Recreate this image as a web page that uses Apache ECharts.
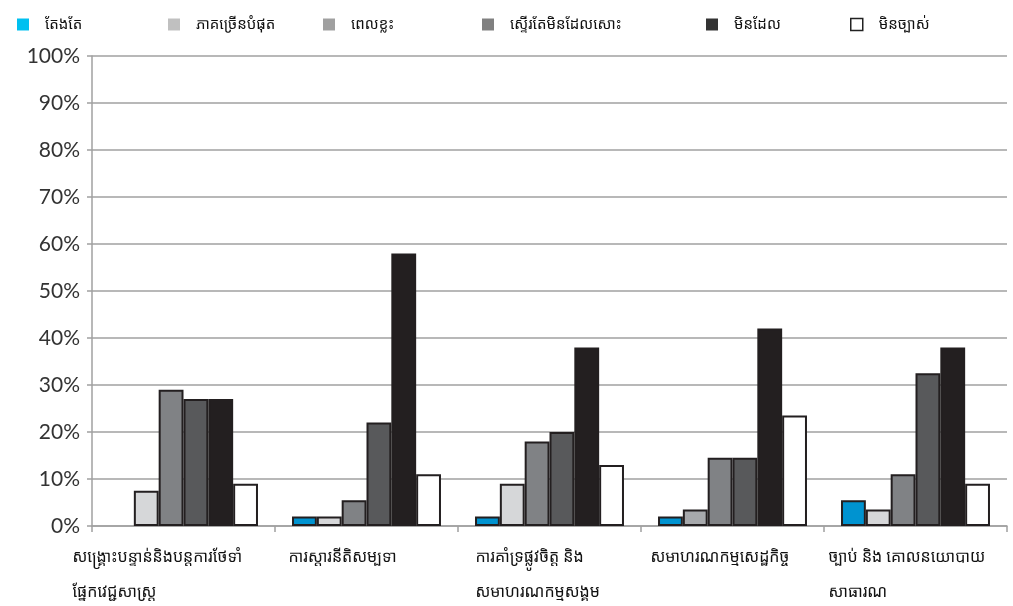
<!DOCTYPE html>
<html><head><meta charset="utf-8">
<script src="https://cdn.jsdelivr.net/npm/echarts@6/dist/echarts.min.js"></script>
<style>html,body{margin:0;padding:0;background:#fff}#c{width:1013px;height:606px}</style>
</head><body><div id="c"></div>
<script>
const categories = ['សង្គ្រោះបន្ទាន់និងបន្តការថែទាំ\nផ្នែកវេជ្ជសាស្ត្រ', 'ការស្តារនីតិសម្បទា', 'ការគាំទ្រផ្លូវចិត្ត និង\nសមាហរណកម្មសង្គម', 'សមាហរណកម្មសេដ្ឋកិច្ច', 'ច្បាប់ និង គោលនយោបាយ\nសាធារណ'];
const seriesNames = ['តែងតែ', 'ភាគច្រើនបំផុត', 'ពេលខ្លះ', 'ស្ទើរតែមិនដែលសោះ', 'មិនដែល', 'មិនច្បាស់'];
const always = [null, 2, 2, 2, 5.5];
const mostly = [7.5, 2, 9, 3.5, 3.5];
const sometimes = [29, 5.5, 18, 14.5, 11];
const rarely = [27, 22, 20, 14.5, 32.5];
const never = [27, 58, 38, 42, 38];
const unsure = [9, 11, 13, 23.5, 9];
const yTicks = [0,10,20,30,40,50,60,70,80,90,100];

const values = [always, mostly, sometimes, rarely, never, unsure];
const barColors = ['#0093d0', '#d6d7d9', '#808285', '#58595b', '#231f20', '#ffffff'];
const legendColors = ['#00c0f0', '#c0c0c0', '#a0a0a0', '#808080', '#333333', '#ffffff'];
const legendLeft = [12, 163, 318, 477, 701, 845];
const labelWidths = [222, 156, 148, 164, 174];

const chart = echarts.init(document.getElementById('c'));
const khmer = '"Noto Sans Khmer", "Noto Sans", sans-serif';
const rich = {};
labelWidths.forEach((w, i) => { rich['a' + i] = {width: w, align: 'left', fontSize: 16, lineHeight: 35, color: '#111', fontFamily: khmer}; });

chart.setOption({
  animation: false,
  legend: seriesNames.map((n, i) => ({
    left: legendLeft[i], top: 12, itemWidth: 12, itemHeight: 12, icon: 'rect', selectedMode: false,
    data: [{name: n, itemStyle: {color: legendColors[i], borderColor: '#222', borderWidth: i === 5 ? 1.5 : 0}}],
    textStyle: {fontSize: 15, color: '#111', fontFamily: khmer, padding: [0, 0, 0, 11]}
  })),
  grid: {left: 92, right: 6, top: 56, bottom: 80},
  xAxis: {
    type: 'category', data: categories,
    axisLine: {lineStyle: {color: '#a0a0a0', width: 1.5}},
    axisTick: {show: true, length: 6, lineStyle: {color: '#a0a0a0', width: 1.5}},
    axisLabel: {
      margin: 14, align: 'center', interval: 0,
      formatter: function (v, idx) { return v.split('\n').map(s => '{a' + idx + '|' + s + '}').join('\n'); },
      rich: rich
    }
  },
  yAxis: {
    type: 'value', min: 0, max: 100, interval: 10,
    axisLine: {show: true, lineStyle: {color: '#a0a0a0', width: 1.5}},
    axisTick: {show: true, length: 5, lineStyle: {color: '#a0a0a0', width: 1.5}},
    splitLine: {lineStyle: {color: '#a0a0a0', width: 1.5}},
    axisLabel: {margin: 12, fontSize: 21, color: '#333', fontFamily: 'Lato, sans-serif', formatter: v => yTicks.includes(v) ? v + '%' : ''}
  },
  series: seriesNames.map((n, i) => ({
    name: n, type: 'bar', barGap: '0%', barCategoryGap: '18.6%',
    itemStyle: {color: barColors[i], borderColor: '#231f20', borderWidth: 2},
    data: values[i].map((v, j) => (i === 1 && j === 3) ? {value: v, itemStyle: {color: '#a7a9ac'}} : v)
  }))
});
</script></body></html>
